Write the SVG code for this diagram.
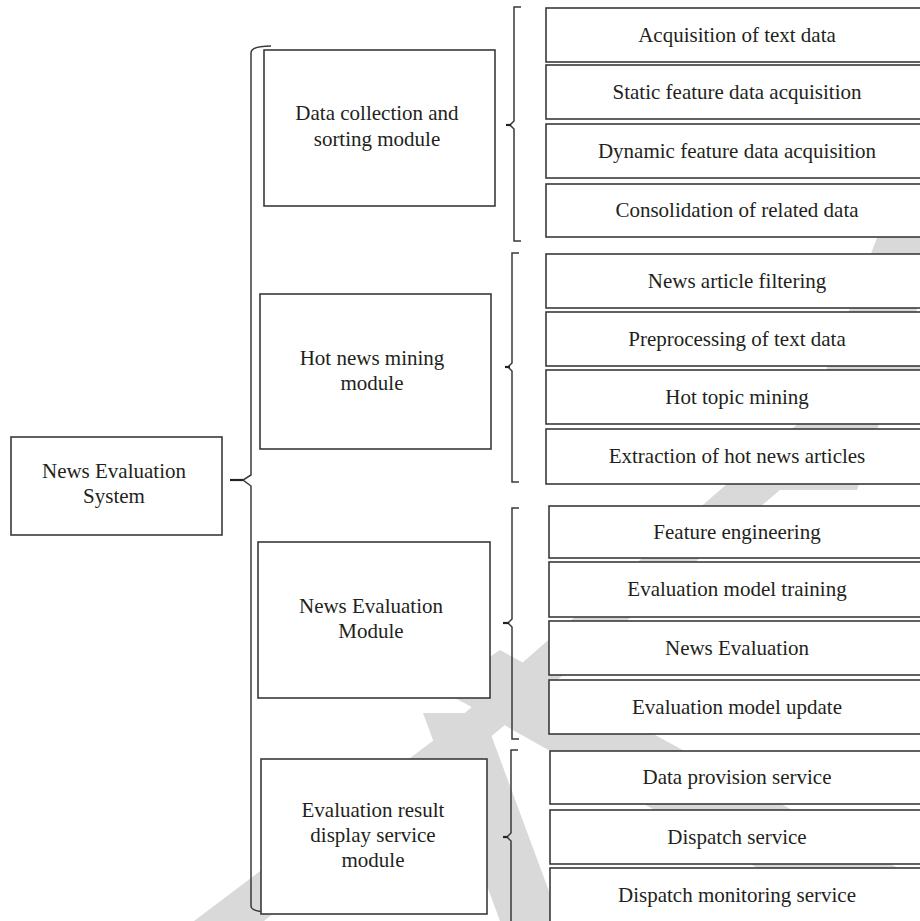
<svg xmlns="http://www.w3.org/2000/svg" width="920" height="921" viewBox="0 0 920 921">
<style>
.box{fill:#fff;stroke:#3a3a3a;stroke-width:1.6}
.br{fill:none;stroke:#3a3a3a;stroke-width:1.5}
.tip{fill:none;stroke:#222;stroke-width:2.2}
text{font-family:"Liberation Serif","Times New Roman",serif;font-size:21px;fill:#231f20;text-anchor:middle}
.wm{fill:#d9d9d9}
</style>
<rect width="920" height="921" fill="#fff"/>
<g id="watermark">
<polygon class="wm" points="194,921 264,921 487,740 780,490 920,375 920,320 720,490 434,740"/>
<polygon class="wm" points="423,713 483,713 560,921 500,921"/>
<polygon class="wm" points="440,690 500,650 920,880 920,960 483,713"/>
<polygon class="wm" points="880,230 920,230 920,300 857,490 780,490"/>
</g>
<g id="connectors">
<path class="br" d="M271,46 Q251,46 251,53 L251,475 L243,480 L251,486 L251,906 Q251,912 271,912"/>
<path class="tip" d="M230,480 L243,480"/>
<path class="br" d="M521,7 L514,7 L514,121 L510,125 L514,129 L514,241 L521,241"/>
<path class="tip" d="M506,125 L511,125"/>
<path class="br" d="M519,253 L512,253 L512,363 L508,367 L512,371 L512,482 L519,482"/>
<path class="tip" d="M505,367 L510,367"/>
<path class="br" d="M519,508 L512,508 L512,619 L508,623 L512,627 L512,739 L519,739"/>
<path class="tip" d="M503,623 L509,623"/>
<path class="br" d="M518,750 L511,750 L511,833 L507,837 L511,841 L511,925"/>
<path class="tip" d="M503,837 L508,837"/>
</g>
<g id="root">
<rect class="box" x="11" y="437" width="211" height="98"/>
<text x="114" y="478">News Evaluation</text>
<text x="114" y="503">System</text>
</g>
<g id="m1">
<rect class="box" x="264" y="50" width="231" height="156"/>
<text x="377" y="120">Data collection and</text>
<text x="377" y="146">sorting module</text>
</g>
<g id="m2">
<rect class="box" x="260" y="294" width="231" height="155"/>
<text x="372" y="365">Hot news mining</text>
<text x="372" y="390">module</text>
</g>
<g id="m3">
<rect class="box" x="258" y="542" width="232" height="156"/>
<text x="371" y="613">News Evaluation</text>
<text x="371" y="638">Module</text>
</g>
<g id="m4">
<rect class="box" x="261" y="759" width="226" height="155"/>
<text x="373" y="817">Evaluation result</text>
<text x="373" y="842">display service</text>
<text x="373" y="867">module</text>
</g>
<g id="g1">
<g id="n1"><rect class="box" x="546" y="8" width="384" height="54"/><text x="737" y="42">Acquisition of text data</text></g>
<g id="n2"><rect class="box" x="546" y="65" width="384" height="54"/><text x="737" y="99">Static feature data acquisition</text></g>
<g id="n3"><rect class="box" x="546" y="124" width="384" height="54"/><text x="737" y="158">Dynamic feature data acquisition</text></g>
<g id="n4"><rect class="box" x="546" y="184" width="384" height="53"/><text x="737" y="217">Consolidation of related data</text></g>
</g>
<g id="g2">
<g id="n5"><rect class="box" x="546" y="254" width="384" height="54"/><text x="737" y="288">News article filtering</text></g>
<g id="n6"><rect class="box" x="546" y="312" width="384" height="54"/><text x="737" y="346">Preprocessing of text data</text></g>
<g id="n7"><rect class="box" x="546" y="370" width="384" height="54"/><text x="737" y="404">Hot topic mining</text></g>
<g id="n8"><rect class="box" x="546" y="429" width="384" height="55"/><text x="737" y="463">Extraction of hot news articles</text></g>
</g>
<g id="g3">
<g id="n9"><rect class="box" x="549" y="506" width="381" height="52"/><text x="737" y="539">Feature engineering</text></g>
<g id="n10"><rect class="box" x="549" y="562" width="381" height="55"/><text x="737" y="596">Evaluation model training</text></g>
<g id="n11"><rect class="box" x="549" y="621" width="381" height="54"/><text x="737" y="655">News Evaluation</text></g>
<g id="n12"><rect class="box" x="549" y="680" width="381" height="54"/><text x="737" y="714">Evaluation model update</text></g>
</g>
<g id="g4">
<g id="n13"><rect class="box" x="550" y="751" width="380" height="53"/><text x="737" y="784">Data provision service</text></g>
<g id="n14"><rect class="box" x="550" y="810" width="380" height="54"/><text x="737" y="844">Dispatch service</text></g>
<g id="n15"><rect class="box" x="550" y="868" width="380" height="60"/><text x="737" y="902">Dispatch monitoring service</text></g>
</g>
</svg>
